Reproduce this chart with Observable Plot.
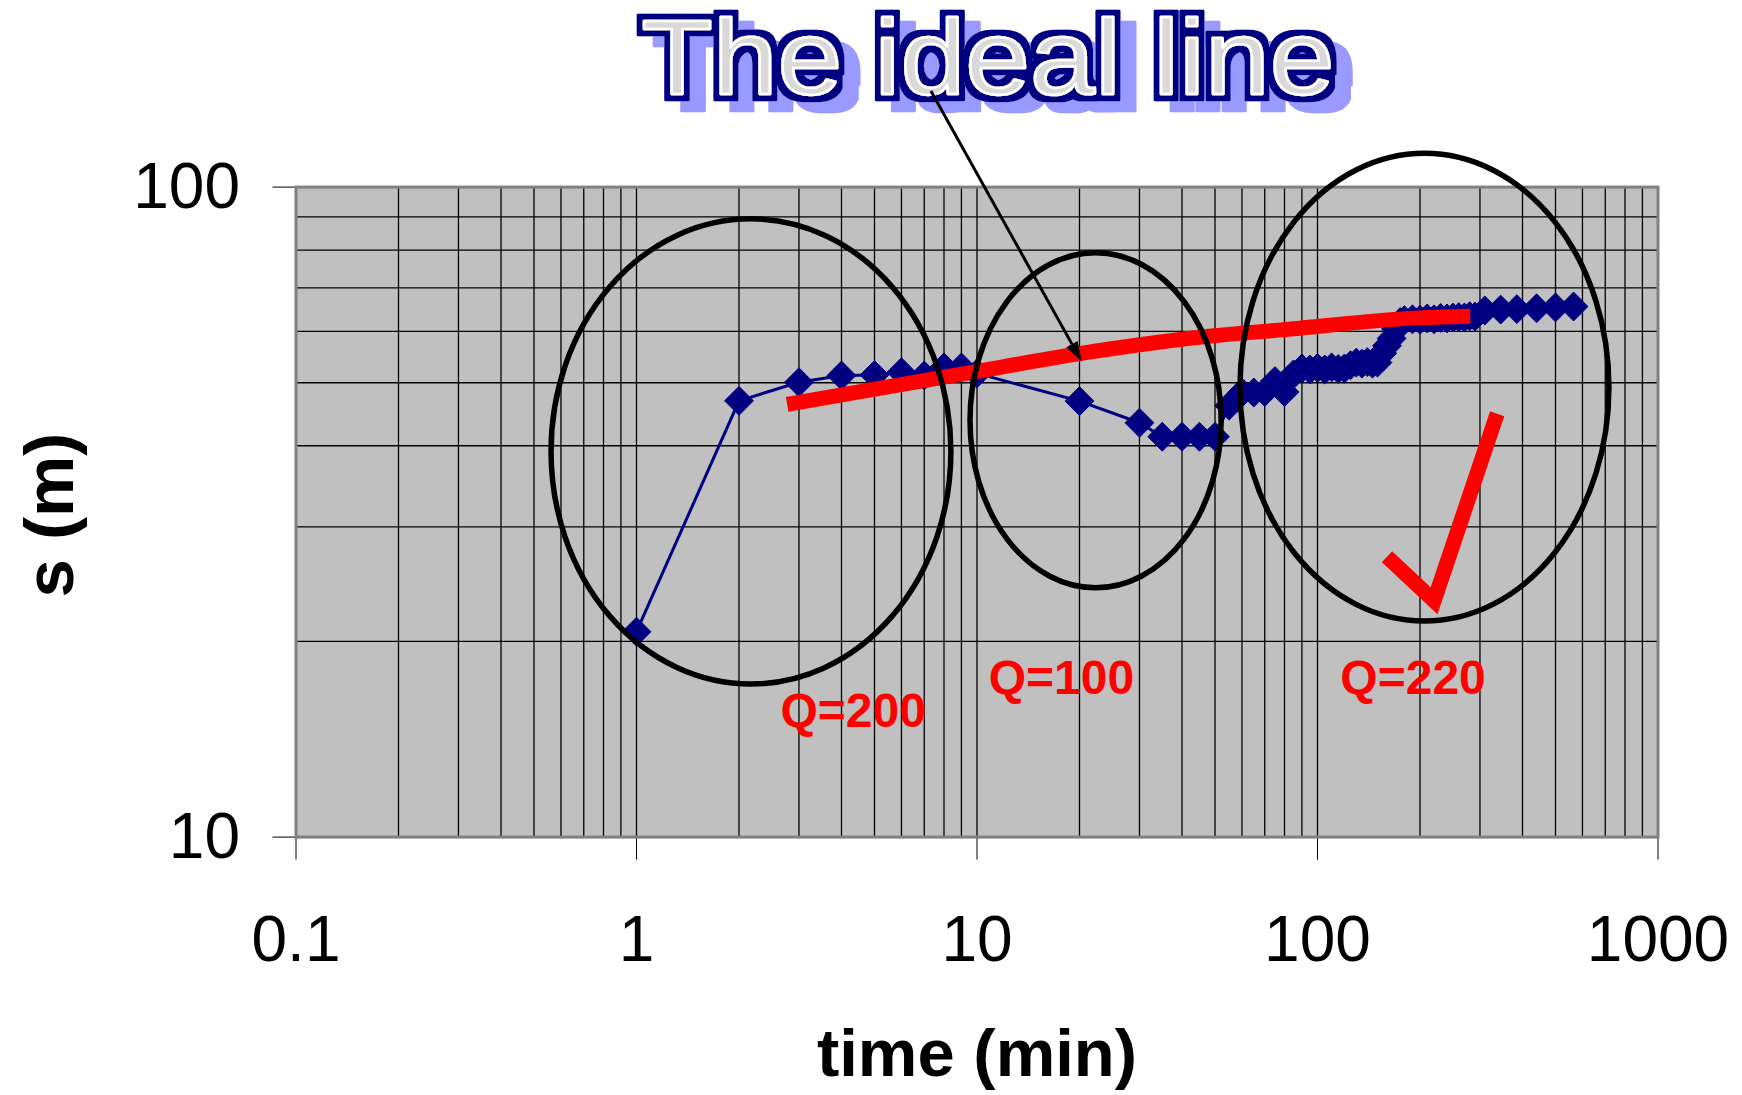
<!DOCTYPE html>
<html><head><meta charset="utf-8">
<script src="https://cdn.jsdelivr.net/npm/d3@7"></script>
<script src="https://cdn.jsdelivr.net/npm/@observablehq/plot@0.6"></script>
<style>
html,body{margin:0;padding:0;background:#fff;}
#chart{width:1742px;height:1095px;}
</style></head><body><div id="chart"></div>
<script>
// ---- data ----
const timeMin = [1,2,3,4,5,6,7,8,9,10,20,30,35,40,45,50,55,60,65,70,75,80,85,90,95,100,105,110,115,120,125,130,135,140,145,150,155,160,165,170,175,180,190,200,210,220,230,240,250,260,270,280,290,310,345,385,440,500,565];
const drawdown = [20.7,46.9,50.1,51.3,51.4,51.9,51.3,52.8,52.8,51.7,46.85,43.4,41.3,41.3,41.3,41.3,46.1,48.3,48.3,48.4,50.3,48.4,51.5,52.6,52.4,52.7,52.4,52.8,52.5,52.6,53.2,53.7,53.5,53.8,53.5,53.7,55.5,57.0,58.5,60.5,62.0,62.4,62.6,62.5,62.8,62.6,62.9,62.8,63.0,63.1,63.0,63.3,63.2,64.6,64.8,64.9,65.1,65.3,65.5];
const idealT = [2.77, 11.7, 19.8, 45.6, 78.3, 175.6, 281];
const idealS = [46.3, 52.8, 55.4, 58.8, 60.3, 62.7, 63.3];
const checkT = [160, 220, 337];
const checkS = [27.0, 23.1, 44.8];
const qLabels = ["Q=200", "Q=100", "Q=220"];
const qT = [4.33, 17.7, 190.8];
const qS = [14.76, 16.6, 16.6];
const ellipseTmin = [0.563, 9.57, 59.4];
const ellipseTmax = [8.41, 52.3, 720];
const ellipseSmin = [17.17, 24.15, 21.46];
const ellipseSmax = [89.2, 79.1, 112.5];
const arrowT = [7.35, 20.37];
const arrowS = [140.3, 53.8];
const xTicks = [0.1, 1, 10, 100, 1000];
const xTickLabels = ["0.1", "1", "10", "100", "1000"];
const yTicks = [10, 100];
const yTickLabels = ["10", "100"];
const titleText = "The ideal line";
const xTitle = "time (min)";
const yTitle = "s (m)";

// ---- build tables ----
const series = timeMin.map((t, i) => ({t, s: drawdown[i]}));
const ideal = idealT.map((t, i) => ({t, s: idealS[i]}));
const check = checkT.map((t, i) => ({t, s: checkS[i]}));
const qData = qLabels.map((q, i) => ({q, t: qT[i], s: qS[i]}));
const xGrid = d3.scaleLog().domain([0.1, 1000]).ticks();
const yGrid = d3.scaleLog().domain([10, 100]).ticks();

const FONT = "'Liberation Sans', Arial, Helvetica, sans-serif";

const plot = Plot.plot({
  width: 1742, height: 1095,
  marginLeft: 295.5, marginRight: 84.5, marginTop: 186.6, marginBottom: 258.4,
  style: {fontFamily: FONT, fontSize: "64px", background: "white", color: "black", overflow: "visible"},
  x: {type: "log", domain: [0.1, 1000], ticks: xTicks,
      tickFormat: d => xTickLabels[xTicks.findIndex(v => Math.abs(v - d) < 1e-9)],
      tickSize: 23, tickPadding: 55, label: null},
  y: {type: "log", domain: [10, 100], ticks: yTicks,
      tickFormat: d => yTickLabels[yTicks.findIndex(v => Math.abs(v - d) < 1e-9)],
      tickSize: 23, tickPadding: 33, label: null},
  marks: [
    Plot.frame({fill: "#C0C0C0", stroke: null}),
    Plot.ruleX(xGrid, {stroke: "#000", strokeWidth: 1.3}),
    Plot.ruleY(yGrid, {stroke: "#000", strokeWidth: 1.3}),
    Plot.frame({stroke: "#808080", strokeWidth: 3}),
    Plot.line(series, {x: "t", y: "s", stroke: "#000080", strokeWidth: 3}),
    Plot.dot(series, {x: "t", y: "s", symbol: "diamond2", r: 13, fill: "#000080", stroke: "#000080", strokeWidth: 1}),
    Plot.line(ideal, {x: "t", y: "s", stroke: "#FF0000", strokeWidth: 15, curve: "catmull-rom", strokeLinecap: "butt"}),
    Plot.line(check, {x: "t", y: "s", stroke: "#FF0000", strokeWidth: 15, strokeLinecap: "butt", strokeLinejoin: "miter", strokeMiterlimit: 10}),
    Plot.text(qData, {x: "t", y: "s", text: "q", fill: "#FF0000", fontWeight: "bold", fontSize: 48, lineAnchor: "bottom", textAnchor: "middle"}),
    Plot.text([xTitle], {text: d => d, frameAnchor: "bottom", dy: 239, lineAnchor: "bottom", textAnchor: "middle", fontWeight: "bold", fontSize: 67, fill: "black"}),
    Plot.text([yTitle], {text: d => d, frameAnchor: "left", dx: -245, dy: 3, rotate: -90, lineAnchor: "middle", textAnchor: "middle", fontWeight: "bold", fontSize: 69, fill: "black"}),
    // WordArt-like title: light fill with white inline; navy outline and blue shadow come from a filter
    Plot.text([titleText], {text: d => d, frameAnchor: "top", dx: 11, dy: -93.6, lineAnchor: "bottom", textAnchor: "middle", fontSize: 106,
      fill: "#D9D9D9", stroke: "#FFFFFF", strokeWidth: 2.5, strokeLinejoin: "round", paintOrder: "fill"})
  ]
});

document.getElementById("chart").appendChild(plot);

// WordArt filter (outline + shadow) for the single title text
const svg = d3.select(plot);
const defs = svg.insert("defs", ":first-child");
const f = defs.append("filter").attr("id", "wordart")
  .attr("x", "-10%").attr("y", "-40%").attr("width", "125%").attr("height", "190%");
f.append("feMorphology").attr("in", "SourceAlpha").attr("operator", "dilate").attr("radius", 5.5).attr("result", "thick");
f.append("feFlood").attr("flood-color", "#000080").attr("result", "navy");
f.append("feComposite").attr("in", "navy").attr("in2", "thick").attr("operator", "in").attr("result", "outline");
f.append("feOffset").attr("in", "thick").attr("dx", 16).attr("dy", 11).attr("result", "sh");
f.append("feFlood").attr("flood-color", "#9999FF").attr("result", "blue");
f.append("feComposite").attr("in", "blue").attr("in2", "sh").attr("operator", "in").attr("result", "shadow");
const m = f.append("feMerge");
m.append("feMergeNode").attr("in", "shadow");
m.append("feMergeNode").attr("in", "outline");
m.append("feMergeNode").attr("in", "SourceGraphic");

svg.selectAll("text").filter(function() { return this.textContent === titleText; })
  .attr("textLength", 693).attr("lengthAdjust", "spacingAndGlyphs")
  .attr("filter", "url(#wordart)");

// annotations positioned through the plot's own scales
const sx = plot.scale("x"), sy = plot.scale("y");
const X = d3.scaleLog().domain(sx.domain).range(sx.range);
const Y = d3.scaleLog().domain(sy.domain).range(sy.range);
const ann = svg.append("g").attr("class", "annotations");
ellipseTmin.forEach((_, i) => {
  const x0 = X(ellipseTmin[i]), x1 = X(ellipseTmax[i]);
  const y0 = Y(ellipseSmax[i]), y1 = Y(ellipseSmin[i]);
  ann.append("ellipse")
    .attr("cx", (x0 + x1) / 2).attr("cy", (y0 + y1) / 2)
    .attr("rx", (x1 - x0) / 2).attr("ry", (y1 - y0) / 2)
    .attr("fill", "none").attr("stroke", "#000").attr("stroke-width", 5.5);
});
{
  const ax0 = X(arrowT[0]), ay0 = Y(arrowS[0]);
  const ax1 = X(arrowT[1]), ay1 = Y(arrowS[1]);
  const ang = Math.atan2(ay1 - ay0, ax1 - ax0);
  const L = 20, Wd = 6.5;
  const bx = ax1 - L * Math.cos(ang), by = ay1 - L * Math.sin(ang);
  ann.append("line").attr("x1", ax0).attr("y1", ay0).attr("x2", bx).attr("y2", by)
    .attr("stroke", "#000").attr("stroke-width", 3);
  ann.append("path")
    .attr("d", `M${ax1},${ay1}L${bx + Wd * Math.sin(ang)},${by - Wd * Math.cos(ang)}L${bx - Wd * Math.sin(ang)},${by + Wd * Math.cos(ang)}Z`)
    .attr("fill", "#000");
}
</script>
</body></html>
